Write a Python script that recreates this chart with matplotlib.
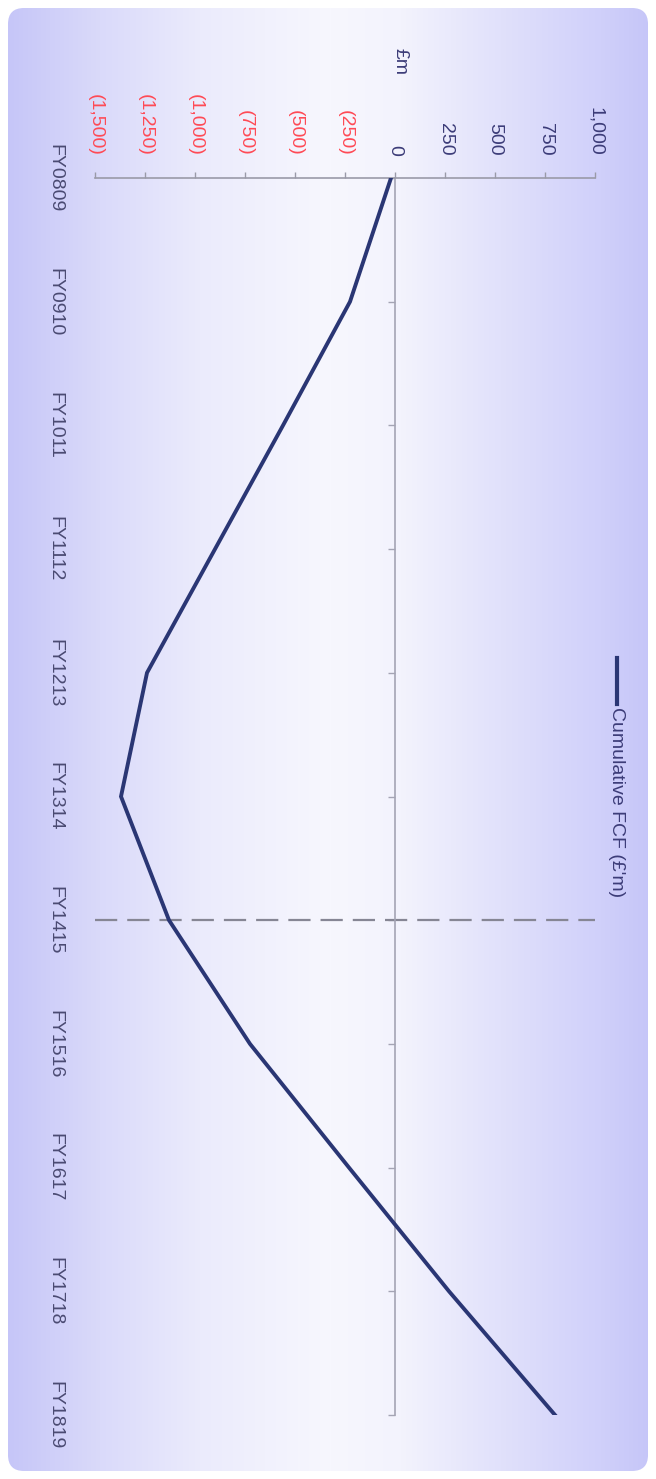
import numpy as np
import matplotlib
matplotlib.use('Agg')
import matplotlib.pyplot as plt
from matplotlib.patches import FancyBboxPatch
from matplotlib.colors import to_rgb

# Data
years = ['FY0809', 'FY0910', 'FY1011', 'FY1112', 'FY1213', 'FY1314',
         'FY1415', 'FY1516', 'FY1617', 'FY1718', 'FY1819']
cum_fcf = [-20, -225, -560, -900, -1240, -1370, -1130, -725, -230, 270, 800]
value_ticks = [-1500, -1250, -1000, -750, -500, -250, 0, 250, 500, 750, 1000]
marker_year = 'FY1415'

W, H = 656, 1479
plt.rcParams['font.family'] = ['Liberation Sans', 'DejaVu Sans']
fig = plt.figure(figsize=(W / 100, H / 100), dpi=100)
fig.patch.set_facecolor('white')

# Background panel: rounded box with side-to-side gradient
bg = fig.add_axes([0, 0, 1, 1], zorder=0)
bg.set_xlim(0, W)
bg.set_ylim(H, 0)
bg.axis('off')
stops = [0, 100, 200, 330, 400, 500, 600, 656]
cols = ['#c4c4f8', '#dadafa', '#ebebfc', '#f7f7fe', '#f3f3fd', '#e1e1fb', '#d0d0fa', '#c4c4f8']
xs = np.arange(W)
rgb = np.array([to_rgb(c) for c in cols])
grad = np.stack([np.interp(xs, stops, rgb[:, k]) for k in range(3)], axis=-1)[None, :, :]
box = FancyBboxPatch((8, 8), 640, 1463, boxstyle='round,pad=0,rounding_size=16',
                     facecolor='none', edgecolor='none', transform=bg.transData)
bg.add_patch(box)
im = bg.imshow(grad, extent=(0, W, H, 0), aspect='auto')
im.set_clip_path(box)

# Main chart (drawn rotated: values across, years downwards)
ax = fig.add_axes([95 / W, 1 - 1415 / H, 500 / W, (1415 - 178) / H], zorder=1)
ax.patch.set_alpha(0)
ax.set_xlim(-1500, 1000)
ax.set_ylim(len(years) - 1, 0)

idx = np.arange(len(years))
ax.plot(cum_fcf, idx, color='#2a3674', lw=2.8, solid_joinstyle='miter', zorder=3)

m = years.index(marker_year)
ax.plot([-1500, 1000], [m, m], color='#868694', lw=1.6,
        linestyle=(0, (10, 4.5)), zorder=2)

for s in ['right', 'bottom']:
    ax.spines[s].set_visible(False)
ax.spines['top'].set_color('#9a9aa8')
ax.spines['top'].set_linewidth(1.2)
ax.spines['left'].set_position(('data', 0))
ax.spines['left'].set_color('#a4a4b4')
ax.spines['left'].set_linewidth(1.2)

ax.xaxis.set_ticks_position('top')
ax.set_xticks(value_ticks)
labels = []
for v in value_ticks:
    if v < 0:
        labels.append('({:,})'.format(-v))
    else:
        labels.append('{:,}'.format(v))
ax.set_xticklabels(labels, rotation=270, fontsize=14)
for lab, v in zip(ax.get_xticklabels(), value_ticks):
    lab.set_color('#ff4a55' if v < 0 else '#3c3c78')
ax.tick_params(axis='x', direction='out', length=4, width=1, color='#9a9aa8', pad=12)

ax.set_yticks(idx)
ax.set_yticklabels([])
ax.tick_params(axis='y', direction='out', length=5, width=1, color='#a4a4b4')

for i, y in enumerate(years):
    ax.text(-0.08, i, y, rotation=270, ha='center', va='center', fontsize=14,
            color='#4a4a72', transform=ax.get_yaxis_transform())

# Axis title
fig.text(400 / W, 1 - 62 / H, '£m', rotation=270, ha='center', va='center',
         fontsize=14, color='#3c3c78')

# Legend (rotated)
fig.add_artist(plt.Line2D([617 / W, 617 / W], [1 - 658 / H, 1 - 704 / H],
                          color='#2a3674', lw=3, transform=fig.transFigure))
fig.text(617 / W, 1 - 707 / H, "Cumulative FCF (£'m)", rotation=270,
         ha='center', va='top', fontsize=14, color='#3c3c78')

fig.savefig('out.png', dpi=100)
